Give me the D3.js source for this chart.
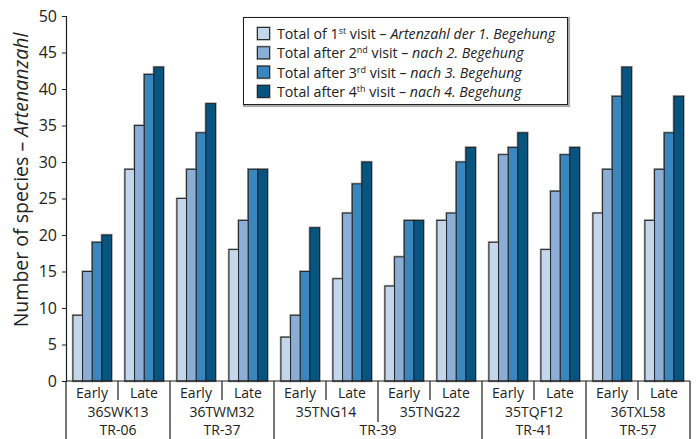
<!DOCTYPE html>
<html>
<head>
<meta charset="utf-8">
<script src="https://cdn.jsdelivr.net/npm/d3@7"></script>
<style>
  html, body { margin: 0; padding: 0; background: #fff; }
  svg { display: block; font-family: "Open Sans", sans-serif; }
</style>
</head>
<body>
<svg id="chart" width="697" height="439"></svg>
<script>
// Sampling plots: each site has an Early and a Late survey round
const sites = ["36SWK13", "36TWM32", "35TNG14", "35TNG22", "35TQF12", "36TXL58"];
const seasons = ["Early", "Late"];
const transects = [
  { name: "TR-06", from: 0, to: 1 },
  { name: "TR-37", from: 1, to: 2 },
  { name: "TR-39", from: 2, to: 4 },
  { name: "TR-41", from: 4, to: 5 },
  { name: "TR-57", from: 5, to: 6 }
];

// Cumulative species counts after visit 1..4, one array per visit, ordered site × season
const visit1 = [9, 29, 25, 18, 6, 14, 13, 22, 19, 18, 23, 22];
const visit2 = [15, 35, 29, 22, 9, 23, 17, 23, 31, 26, 29, 29];
const visit3 = [19, 42, 34, 29, 15, 27, 22, 30, 32, 31, 39, 34];
const visit4 = [20, 43, 38, 29, 21, 30, 22, 32, 34, 32, 43, 39];

const seriesNames = ["v1", "v2", "v3", "v4"];
const seriesValues = [visit1, visit2, visit3, visit4];
const seriesColors = ["#c4d6ea", "#8aaed6", "#3a87c0", "#07547f"];
const yTicks = [0, 5, 10, 15, 20, 25, 30, 35, 40, 45, 50];

const svg = d3.select("#chart");
const x0 = 66, x1 = 690, yTop = 16, yBase = 381;

const groups = [];
sites.forEach(s => seasons.forEach(p => groups.push(s + "|" + p)));

const xGroup = d3.scaleBand().domain(groups).range([x0, x1]).padding(0);
const gw = xGroup.bandwidth();
const xBar = d3.scaleBand().domain(seriesNames).range([7, gw - 6.5]).padding(0);
const y = d3.scaleLinear().domain([0, 50]).range([yBase, yTop]);

// Bars: grey halo first, then the filled bars on top
const barLayer = svg.append("g");
groups.forEach((gk, gi) => {
  seriesNames.forEach((sn, si) => {
    const v = seriesValues[si][gi];
    const bx = xGroup(gk) + xBar(sn);
    const by = y(v);
    barLayer.append("rect")
      .attr("x", bx).attr("y", by).attr("width", xBar.bandwidth()).attr("height", y(0) - by)
      .attr("fill", "none").attr("stroke", "#9a9a9a").attr("stroke-width", 2.4);
  });
});
groups.forEach((gk, gi) => {
  seriesNames.forEach((sn, si) => {
    const v = seriesValues[si][gi];
    const bx = xGroup(gk) + xBar(sn);
    const by = y(v);
    barLayer.append("rect")
      .attr("x", bx).attr("y", by).attr("width", xBar.bandwidth()).attr("height", y(0) - by)
      .attr("fill", seriesColors[si]).attr("stroke", "#1e1e1e").attr("stroke-width", 0.9);
  });
});

// Y axis
const yAxis = d3.axisLeft(y).tickValues(yTicks).tickSize(4).tickPadding(5);
const gy = svg.append("g").attr("transform", `translate(${x0},0)`).call(yAxis);
gy.select(".domain").attr("stroke", "#1e1e1e").attr("stroke-width", 1.2);
gy.selectAll(".tick line").attr("stroke", "#1e1e1e");
gy.selectAll(".tick text").attr("font-size", 16).attr("fill", "#222")
  .attr("font-family", "Open Sans, sans-serif");

// Y axis title
const yt = svg.append("text")
  .attr("transform", "translate(28,180) rotate(-90)")
  .attr("text-anchor", "middle").attr("font-size", 19.5).attr("fill", "#222");
yt.append("tspan").text("Number of species – ");
yt.append("tspan").attr("font-style", "italic").text("Artenanzahl");

// X axis frame and hierarchical category labels
const ax = svg.append("g").attr("stroke", "#1e1e1e").attr("stroke-width", 1.2);
ax.append("line").attr("x1", x0).attr("x2", x1).attr("y1", yBase).attr("y2", yBase);
ax.append("line").attr("x1", x0).attr("x2", x0).attr("y1", yBase).attr("y2", 439);
ax.append("line").attr("x1", x1).attr("x2", x1).attr("y1", yBase).attr("y2", 439);

const lab = svg.append("g").attr("fill", "#222").attr("font-size", 14).attr("text-anchor", "middle");

groups.forEach(gk => {
  const season = gk.split("|")[1];
  lab.append("text").attr("x", xGroup(gk) + gw / 2).attr("y", 398).text(season);
  if (season === "Early") {
    ax.append("line").attr("x1", xGroup(gk) + gw).attr("x2", xGroup(gk) + gw)
      .attr("y1", yBase).attr("y2", 400);
  }
});

sites.forEach((s, si) => {
  const left = xGroup(s + "|Early");
  lab.append("text").attr("x", left + gw).attr("y", 417).text(s);
  if (si > 0) {
    const isTransectEdge = transects.some(t => t.from === si);
    ax.append("line").attr("x1", left).attr("x2", left)
      .attr("y1", yBase).attr("y2", isTransectEdge ? 439 : 422);
  }
});

transects.forEach(t => {
  const left = x0 + t.from * 2 * gw;
  const right = x0 + t.to * 2 * gw;
  lab.append("text").attr("x", (left + right) / 2).attr("y", 435).text(t.name);
});

// Legend
const legendItems = [
  { pre: "Total of 1", sup: "st", post: " visit – ", it: "Artenzahl der 1. Begehung" },
  { pre: "Total after 2", sup: "nd", post: " visit – ", it: "nach 2. Begehung" },
  { pre: "Total after 3", sup: "rd", post: " visit – ", it: "nach 3. Begehung" },
  { pre: "Total after 4", sup: "th", post: " visit – ", it: "nach 4. Begehung" }
];
const lg = svg.append("g");
lg.append("rect").attr("x", 244).attr("y", 18).attr("width", 325).attr("height", 88)
  .attr("fill", "none").attr("stroke", "#aaa").attr("stroke-width", 2.2);
lg.append("rect").attr("x", 243.5).attr("y", 17.5).attr("width", 324).attr("height", 87)
  .attr("fill", "#fff").attr("stroke", "#1e1e1e").attr("stroke-width", 1);
legendItems.forEach((d, i) => {
  const cy = 34 + i * 19.3;
  lg.append("rect").attr("x", 257.5).attr("y", cy - 6.5).attr("width", 12).attr("height", 12)
    .attr("fill", "none").attr("stroke", "#9a9a9a").attr("stroke-width", 2.2);
  lg.append("rect").attr("x", 257.5).attr("y", cy - 6.5).attr("width", 12).attr("height", 12)
    .attr("fill", seriesColors[i]).attr("stroke", "#1e1e1e").attr("stroke-width", 0.9);
  const t = lg.append("text").attr("x", 277).attr("y", cy + 5).attr("font-size", 14.2).attr("fill", "#222");
  t.append("tspan").text(d.pre);
  t.append("tspan").attr("font-size", 9).attr("dy", -5).text(d.sup);
  t.append("tspan").attr("dy", 5).text(d.post);
  t.append("tspan").attr("font-style", "italic").text(d.it);
});
</script>
</body>
</html>
